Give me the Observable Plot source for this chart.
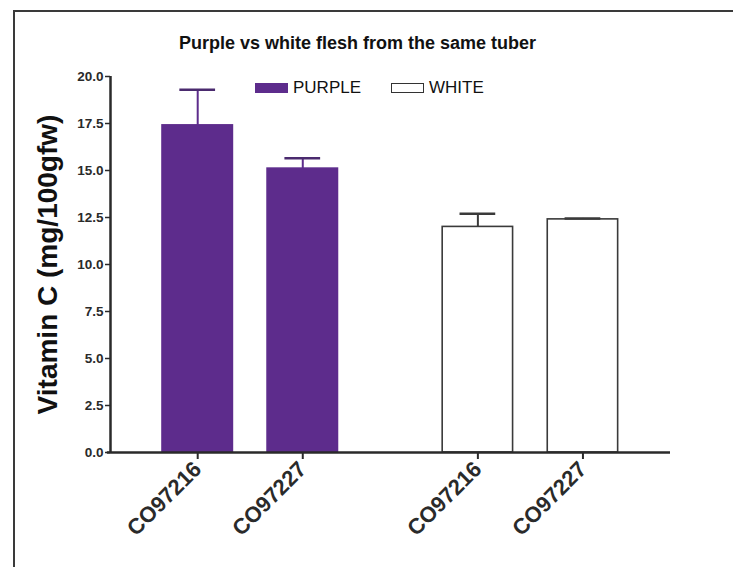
<!DOCTYPE html>
<html>
<head>
<meta charset="utf-8">
<script src="https://cdn.jsdelivr.net/npm/d3@7"></script>
<script src="https://cdn.jsdelivr.net/npm/@observablehq/plot@0.6"></script>
<style>
  body { margin: 0; background: #fff; font-family: "Liberation Sans", Arial, sans-serif; }
  #wrap { position: relative; width: 733px; height: 567px; overflow: hidden; background: #fff; }
  #wrap svg { position: absolute; left: 0; top: 0; background: none; }
  #border { position: absolute; left: 13px; top: 10px; width: 800px; height: 700px;
            border-top: 2px solid #3a3a3a; border-left: 2px solid #3a3a3a; pointer-events: none; }
  #title { position: absolute; top: 33px; left: 0; width: 715px; text-align: center;
           font-weight: bold; font-size: 18px; color: #111; }
  #legend { position: absolute; top: 78px; left: 255px; display: flex; align-items: center;
            gap: 30px; font-size: 17px; color: #111; }
  #legend .item { display: flex; align-items: center; gap: 5px; }
  #legend .sw { width: 33px; height: 10px; box-sizing: border-box; }
</style>
</head>
<body>
<div id="wrap">
  <div id="title"></div>
  <div id="legend"></div>
  <div id="border"></div>
</div>
<script>
// Vitamin C content of purple and white flesh cut from the same tubers
const title = "Purple vs white flesh from the same tuber";
const yLabel = "Vitamin C (mg/100gfw)";
const varieties = ["CO97216", "CO97227"];
const flesh = ["PURPLE", "WHITE"];
const purpleMean = [17.4, 15.1];
const purpleSem = [1.9, 0.55];
const whiteMean = [12.0, 12.4];
const whiteSem = [0.7, 0.05];
const yTicks = [0, 2.5, 5, 7.5, 10, 12.5, 15, 17.5, 20];

const purple = "#5d2c8c";
const ink = "#2a2a2a";

// layout of the grouped bars on a linear axis (one unit = one bar slot)
const groupGap = 8 / 3;
const barHalf = 0.335;
const capHalf = 0.17;
const xDomain = [-0.83, 4.5];

const means = [purpleMean, whiteMean];
const sems = [purpleSem, whiteSem];
const rows = [];
flesh.forEach((f, g) => varieties.forEach((v, i) => rows.push({
  flesh: f, variety: v, mean: means[g][i], sem: sems[g][i], pos: g * groupGap + i
})));
const tickLabel = new Map(rows.map(d => [d.pos, d.variety]));
const isPurple = d => d.flesh === "PURPLE";

const chart = Plot.plot({
  width: 733,
  height: 567,
  marginLeft: 110,
  marginRight: 63,
  marginTop: 76,
  marginBottom: 115,
  style: { fontFamily: "Liberation Sans, Arial, sans-serif", background: "none", color: ink },
  x: { type: "linear", domain: xDomain },
  y: { domain: [0, 20] },
  marks: [
    Plot.rect(rows, {
      x1: d => d.pos - barHalf, x2: d => d.pos + barHalf, y1: 0, y2: "mean",
      fill: d => isPurple(d) ? purple : "white",
      stroke: d => isPurple(d) ? purple : "#3a3a3a",
      strokeWidth: 1.6
    }),
    Plot.ruleX(rows, {
      x: "pos", y1: "mean", y2: d => d.mean + d.sem,
      stroke: d => isPurple(d) ? purple : "#3a3a3a", strokeWidth: 2
    }),
    Plot.ruleY(rows, {
      y: d => d.mean + d.sem, x1: d => d.pos - capHalf, x2: d => d.pos + capHalf,
      stroke: d => isPurple(d) ? "#4a2a6e" : "#3a3a3a", strokeWidth: 2.5
    }),
    Plot.ruleY([0], { x1: xDomain[0] - 0.03, x2: xDomain[1], stroke: ink, strokeWidth: 2.5 }),
    Plot.ruleX([xDomain[0]], { stroke: ink, strokeWidth: 2.5 }),
    Plot.axisY(yTicks, {
      tickFormat: d => d.toFixed(1), tickSize: 5, tickPadding: 2,
      fontSize: 13.5, fontWeight: "bold", stroke: ink, strokeWidth: 1.5, label: null
    }),
    Plot.axisX(rows.map(d => d.pos), {
      tickFormat: p => tickLabel.get(p), tickRotate: -45, tickSize: 7, tickPadding: 6,
      fontSize: 22, fontWeight: "bold", stroke: ink, strokeWidth: 2, label: null
    }),
    Plot.text([yLabel], {
      frameAnchor: "left", dx: -62, rotate: -90, textAnchor: "middle",
      fontSize: 28, fontWeight: "bold", fill: "#111"
    })
  ]
});

const wrap = document.getElementById("wrap");
wrap.insertBefore(chart, wrap.firstChild);
document.getElementById("title").textContent = title;

const legend = document.getElementById("legend");
flesh.forEach(f => {
  const item = document.createElement("div");
  item.className = "item";
  const sw = document.createElement("div");
  sw.className = "sw";
  if (f === "PURPLE") { sw.style.background = purple; }
  else { sw.style.background = "#fff"; sw.style.border = "1.5px solid #333"; }
  const label = document.createElement("span");
  label.textContent = f;
  item.append(sw, label);
  legend.append(item);
});
</script>
</body>
</html>
